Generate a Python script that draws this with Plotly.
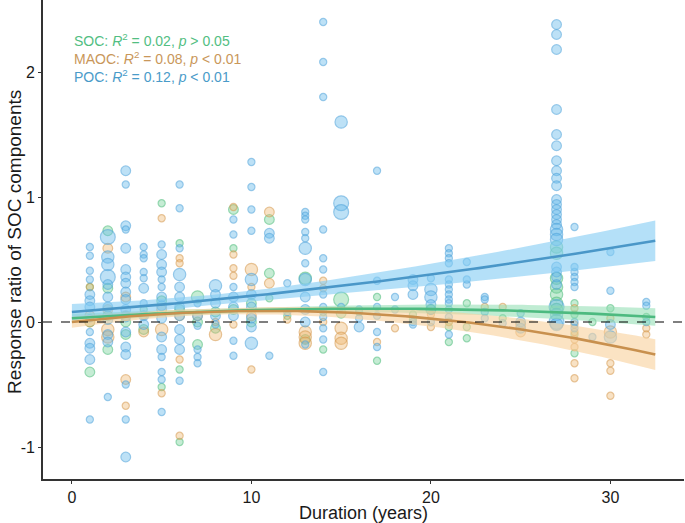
import numpy as np
import plotly.graph_objects as go

# ---------------- data ----------------
soc_years = [1, 2, 3, 4, 5, 6, 7, 8, 9, 10, 11, 12, 13, 14, 15, 16, 17, 19, 20, 21, 22, 24, 27, 28, 29, 30, 32]
soc_y = [[0.28, 0.00, -0.40], [0.73, 0.27, 0.05, -0.22], [0.00, -0.10], [0.10, -0.06],
         [0.95, 0.17, -0.52], [0.63, 0.10, -0.38, -0.96], [0.20, 0.00, -0.18], [0.08, -0.05],
         [0.90, 0.59, 0.10], [0.15, 0.00], [0.82, 0.39, 0.19], [0.05], [0.35, -0.14],
         [0.08, -0.22], [0.18, 0.07], [0.08], [0.20, -0.31], [0.06, 0.02], [0.10],
         [0.00, -0.04, -0.16], [0.15, -0.04, -0.13], [0.03],
         [0.60, 0.55, 0.35, 0.28, 0.22, 0.15, 0.10], [0.15, 0.06, -0.10, -0.25], [0.00], [0.11], [0.04]]
soc_w = [[1, 2, 2], [2, 2, 2, 2], [2, 2], [1, 2], [1, 2, 1], [1, 2, 1, 1], [3, 2, 2], [2, 2],
         [2, 1, 2], [2, 2], [2, 2, 1], [1], [3, 2], [1, 1], [4, 2], [1], [1, 1], [1, 1], [2],
         [1, 1, 1], [1, 1, 1], [1], [3, 3, 3, 3, 3, 3, 3], [1, 1, 1, 1], [1], [1], [1]]

maoc_years = [1, 2, 3, 4, 5, 6, 7, 8, 9, 10, 11, 12, 13, 14, 15, 17, 18, 20, 21, 23, 24, 25, 28, 30, 32]
maoc_y = [[0.28, 0.05, 0.00], [0.59, 0.10, -0.06, -0.12], [0.20, 0.05, -0.46, -0.67], [0.05, -0.08],
          [0.83, 0.10, -0.06, -0.57], [0.51, 0.47, 0.05, -0.30, -0.91], [0.05], [0.00, -0.10],
          [0.92, 0.54, 0.43, 0.37, -0.02], [0.42, 0.28, 0.05, -0.38], [0.88, 0.31], [0.02],
          [-0.08, -0.12, -0.17], [0.33, 0.27, 0.00], [-0.05, -0.13, -0.17], [-0.16], [-0.05],
          [0.06, -0.04], [0.00], [0.12], [0.12], [-0.02, -0.08],
          [0.11, -0.02, -0.08, -0.14, -0.20, -0.33, -0.45], [0.03, -0.08, -0.33, -0.39, -0.59], [-0.05, -0.10]]
maoc_w = [[1, 2, 2], [2, 2, 3, 3], [2, 2, 2, 1], [1, 2], [1, 2, 3, 1], [1, 1, 2, 1, 1], [2], [1, 3],
          [1, 1, 1, 1, 1], [3, 1, 2, 1], [2, 2], [1], [3, 3, 3], [1, 1, 1], [3, 3, 3], [1], [1],
          [1, 1], [1], [1], [1], [2, 2], [1, 1, 1, 1, 1, 1, 1], [1, 3, 1, 1, 1], [1, 1]]

poc_years = [1, 2, 3, 4, 5, 6, 7, 8, 9, 10, 11, 12, 13, 14, 15, 16, 17, 18, 19, 20, 21, 22, 23, 24, 25, 27, 28, 29, 30, 32]
poc_y = [
    [0.60, 0.53, 0.41, 0.34, 0.22, 0.17, 0.12, 0.03, -0.08, -0.17, -0.21, -0.30, -0.78],
    [0.68, 0.52, 0.46, 0.36, 0.30, 0.20, 0.12, 0.02, -0.10, -0.16, -0.60],
    [1.21, 1.10, 0.77, 0.74, 0.59, 0.42, 0.36, 0.31, 0.24, 0.18, 0.10, 0.04, -0.08, -0.20, -0.26, -0.50, -0.78, -1.08],
    [0.60, 0.54, 0.51, 0.40, 0.35, 0.27, 0.15, 0.05, -0.02],
    [0.62, 0.54, 0.46, 0.40, 0.34, 0.28, 0.20, 0.13, 0.03, -0.12, -0.22, -0.28, -0.40, -0.46, -0.72],
    [1.10, 0.91, 0.59, 0.38, 0.28, 0.20, 0.12, 0.05, -0.06, -0.14, -0.22, -0.47],
    [0.15, 0.05, -0.03, -0.22, -0.28, -0.33],
    [0.29, 0.22, 0.15, 0.05, -0.02],
    [0.82, 0.70, 0.28, 0.20, 0.12, 0.05, -0.15, -0.27],
    [1.28, 1.08, 0.90, 0.73, 0.34, 0.22, 0.12, 0.03, -0.04, -0.17],
    [0.71, 0.67, -0.27],
    [0.31, 0.08],
    [0.88, 0.85, 0.82, 0.72, 0.67, 0.59, 0.47, 0.34, 0.20, 0.10, 0.00, -0.18],
    [2.40, 2.08, 1.80, 0.74, 0.51, 0.42, 0.22, 0.12, 0.04, -0.05, -0.14, -0.40],
    [1.60, 0.95, 0.88, 0.12],
    [0.10, 0.03, -0.04],
    [1.21, 0.33, 0.12, 0.05, -0.08, -0.20],
    [0.20, 0.10],
    [0.34, 0.29, 0.22, 0.00, -0.02],
    [0.35, 0.26, 0.20, 0.14, 0.10, 0.00],
    [0.59, 0.55, 0.51, 0.47, 0.34, 0.30, 0.26, 0.22, 0.18, 0.15, 0.10, 0.04, -0.10],
    [0.48, 0.34, 0.30],
    [0.20, 0.18, 0.08, 0.03],
    [-0.01],
    [0.07, 0.00, -0.05],
    [2.38, 2.30, 2.18, 1.70, 1.50, 1.41, 1.29, 1.21, 1.15, 1.09, 0.98, 0.94, 0.90, 0.86, 0.82,
     0.78, 0.74, 0.70, 0.66, 0.44, 0.40, 0.36, 0.30, 0.12, 0.06, 0.00, -0.02],
    [0.76, 0.44, 0.40, 0.36, 0.32, 0.28, 0.00, -0.05],
    [-0.12],
    [0.56, 0.25, -0.02, -0.12],
    [0.16, 0.13, 0.00],
]
poc_w = [
    [1, 1, 1, 1, 2, 2, 2, 1, 1, 2, 2, 2, 1],
    [4, 3, 3, 4, 2, 2, 2, 2, 2, 2, 1],
    [2, 1, 2, 1, 2, 2, 2, 2, 2, 2, 2, 2, 2, 2, 2, 1, 1, 2],
    [1, 1, 1, 1, 1, 2, 1, 2, 2],
    [1, 2, 2, 2, 1, 1, 2, 2, 2, 2, 2, 1, 1, 1, 1],
    [1, 1, 1, 3, 2, 2, 2, 2, 2, 2, 2, 1],
    [1, 2, 1, 1, 1, 1],
    [3, 2, 2, 2, 1],
    [1, 1, 1, 2, 2, 2, 1, 1],
    [1, 1, 1, 1, 3, 2, 2, 2, 2, 3],
    [2, 2, 1],
    [1, 1],
    [1, 1, 1, 1, 1, 3, 1, 3, 2, 2, 2, 1],
    [1, 1, 1, 1, 1, 1, 1, 1, 1, 1, 1, 1],
    [3, 4, 4, 1],
    [1, 1, 2],
    [1, 1, 1, 1, 1, 1],
    [1, 1],
    [2, 2, 2, 1, 1],
    [1, 3, 3, 2, 2, 1],
    [1, 1, 1, 1, 1, 1, 1, 1, 1, 1, 1, 1, 1],
    [1, 1, 1],
    [1, 1, 1, 1],
    [1],
    [1, 2, 2],
    [2, 2, 2, 2, 2, 2, 2, 2, 2, 2, 2, 2, 2, 2, 2, 2, 3, 3, 3, 2, 2, 2, 2, 4, 3, 4, 3],
    [1, 1, 1, 1, 1, 1, 1, 1],
    [1],
    [1, 1, 2, 3],
    [1, 1, 1],
]

# quadratic fits (c0, c1, c2) and CI half-width params (hmin, xcenter, spread)
soc_fit = [0.03, 0.00918, -0.000273]
maoc_fit = [0.0, 0.01646, -0.000753]
poc_fit = [0.08, 0.01078, 0.000208]
soc_ci = [0.02, 10.0, 6.8]
maoc_ci = [0.025, 8.0, 5.1]
poc_ci = [0.04, 8.0, 6.25]
fit_range = [0.0, 32.5]

labels = ["SOC", "MAOC", "POC"]
stats_text = ["<i>R</i><sup>2</sup> = 0.02, <i>p</i> > 0.05",
              "<i>R</i><sup>2</sup> = 0.08, <i>p</i> < 0.01",
              "<i>R</i><sup>2</sup> = 0.12, <i>p</i> < 0.01"]
x_title = "Duration (years)"
y_title = "Response ratio of SOC components"
x_ticks = [0, 10, 20, 30]
x_ticklabels = ["0", "10", "20", "30"]
y_ticks = [-1, 0, 1, 2]
y_ticklabels = ["-1", "0", "1", "2"]

# ---------------- styles ----------------
fill_col = {"SOC": "rgba(105,205,145,0.55)", "MAOC": "rgba(238,180,105,0.55)", "POC": "rgba(105,188,236,0.62)"}
edge_col = {"SOC": "rgba(80,190,125,0.85)", "MAOC": "rgba(215,155,80,0.85)", "POC": "rgba(80,165,220,0.85)"}
line_col = {"SOC": "#4dba80", "MAOC": "#c8904e", "POC": "#4a97c8"}
band_col = {"SOC": "rgba(140,220,175,0.55)", "MAOC": "rgba(248,208,155,0.6)", "POC": "rgba(130,203,243,0.6)"}
text_col = {"SOC": "#52be82", "MAOC": "#c9975a", "POC": "#4a9bc9"}
FONT = "Liberation Sans, Arial"


def flatten(years, ys, ws):
    xs, yy, ww = [], [], []
    for yr, col, wc in zip(years, ys, ws):
        for v, w in zip(col, wc):
            xs.append(yr)
            yy.append(v)
            ww.append(w)
    return np.array(xs, float), np.array(yy, float), np.array(ww, float)


series = {
    "SOC": (soc_years, soc_y, soc_w, soc_fit, soc_ci),
    "MAOC": (maoc_years, maoc_y, maoc_w, maoc_fit, maoc_ci),
    "POC": (poc_years, poc_y, poc_w, poc_fit, poc_ci),
}

fig = go.Figure()

for name in labels:
    yrs, ys, ws, _, _ = series[name]
    x, y, w = flatten(yrs, ys, ws)
    fig.add_trace(go.Scatter(
        x=x, y=y, mode="markers", showlegend=False,
        marker=dict(size=4.5 + 2.6 * w, color=fill_col[name],
                    line=dict(color=edge_col[name], width=1.2)),
    ))

xs = np.linspace(fit_range[0], fit_range[1], 120)
for name in labels:
    _, _, _, c, ci = series[name]
    yfit = c[0] + c[1] * xs + c[2] * xs ** 2
    h = ci[0] * np.sqrt(1 + ((xs - ci[1]) / ci[2]) ** 2)
    fig.add_trace(go.Scatter(
        x=np.concatenate([xs, xs[::-1]]), y=np.concatenate([yfit + h, (yfit - h)[::-1]]),
        fill="toself", fillcolor=band_col[name], line=dict(width=0), mode="lines",
        hoverinfo="skip", showlegend=False))
for name in labels:
    _, _, _, c, _ = series[name]
    yfit = c[0] + c[1] * xs + c[2] * xs ** 2
    fig.add_trace(go.Scatter(x=xs, y=yfit, mode="lines", showlegend=False,
                             line=dict(color=line_col[name], width=2.6)))

fig.add_shape(type="line", xref="paper", x0=0, x1=1, yref="y", y0=0, y1=0,
              line=dict(color="black", width=1.2, dash="dash"), layer="above")

for i, name in enumerate(labels):
    fig.add_annotation(x=0, y=2.256 - 0.144 * i, xref="x", yref="y", xanchor="left", yanchor="middle",
                       showarrow=False, text=f"{name}: {stats_text[i]}",
                       font=dict(size=14, color=text_col[name], family=FONT))

# axis titles
fig.add_annotation(x=0.5, y=-0.07, xref="paper", yref="paper", xanchor="center", yanchor="middle",
                   showarrow=False, text=x_title, font=dict(size=18, color="#1a1a1a", family=FONT))
fig.add_annotation(x=-0.0437, y=0.495, xref="paper", yref="paper", xanchor="center", yanchor="middle",
                   showarrow=False, text=y_title, textangle=-90,
                   font=dict(size=19, color="#1a1a1a", family=FONT))

axis_common = dict(showline=True, linecolor="#333333", linewidth=1.6, ticks="outside", ticklen=3,
                   tickwidth=1.2, tickcolor="#333333", showgrid=False, zeroline=False, automargin=False,
                   tickfont=dict(size=16, color="#1a1a1a", family=FONT))

fig.update_layout(
    width=685, height=523,
    margin=dict(l=43, r=1, t=0, b=44),
    plot_bgcolor="white", paper_bgcolor="white",
    font=dict(family=FONT, color="#1a1a1a"),
    xaxis=dict(range=[-1.61, 34.1], tickvals=x_ticks, ticktext=x_ticklabels, **axis_common),
    yaxis=dict(range=[-1.256, 2.576], tickvals=y_ticks, ticktext=y_ticklabels, **axis_common),
)

fig.write_html("out.html", config={"displayModeBar": False},
               post_script="document.body.style.margin='0px';document.body.style.padding='0px';")
